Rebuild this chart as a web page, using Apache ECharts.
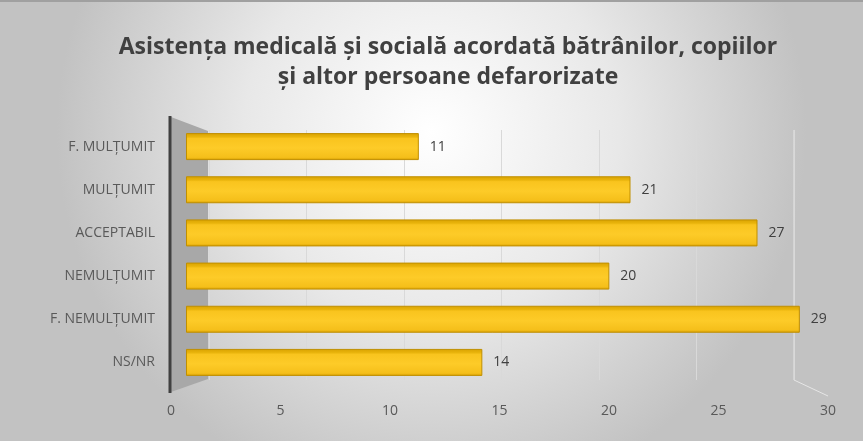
<!DOCTYPE html>
<html>
<head>
<meta charset="utf-8">
<script src="https://cdn.jsdelivr.net/npm/echarts@6/dist/echarts.min.js"></script>
<style>
html, body { margin: 0; padding: 0; }
#chart { width: 863px; height: 441px; }
</style>
</head>
<body>
<div id="chart"></div>
<script>
// date (de sus in jos)
const categories = ['F. MULȚUMIT', 'MULȚUMIT', 'ACCEPTABIL', 'NEMULȚUMIT', 'F. NEMULȚUMIT', 'NS/NR']
const values = [11, 21, 27, 20, 29, 14]
const xTicks = [0, 5, 10, 15, 20, 25, 30]

const chart = echarts.init(document.getElementById('chart'))

const font = '"Open Sans", "Noto Sans", sans-serif'

const option = {
  backgroundColor: {
    type: 'radial',
    x: 0.5, y: 0.3, r: 0.85,
    colorStops: [
      { offset: 0, color: '#ffffff' },
      { offset: 0.5, color: '#e8e8e8' },
      { offset: 1, color: '#c2c2c2' }
    ]
  },
  title: {
    text: 'Asistența medicală și socială acordată bătrânilor, copiilor\nși altor persoane defarorizate',
    left: 443,
    textAlign: 'center',
    top: 27,
    textStyle: {
      fontFamily: font,
      fontSize: 23,
      fontWeight: 'bold',
      color: '#404040',
      lineHeight: 30
    }
  },
  graphic: [
    {
      type: 'line',
      shape: { x1: 0, y1: 1, x2: 863, y2: 1 },
      style: { stroke: '#a0a0a0', lineWidth: 2 }
    },
    {
      type: 'polygon',
      shape: { points: [[171, 117], [208, 131], [208, 379], [171, 392]] },
      style: { fill: '#a8a8a8' }
    },
    {
      type: 'line',
      shape: { x1: 170, y1: 116, x2: 170, y2: 393 },
      style: { stroke: '#404040', lineWidth: 3 }
    },
    {
      type: 'polyline',
      shape: { points: [[794, 130], [794, 380], [828, 396]] },
      style: { stroke: '#e6e6e6', lineWidth: 1, fill: null }
    }
  ],
  grid: [
    // grila din spate (linii verticale)
    { left: 209, top: 130, width: 585, height: 250 },
    // axa cu etichete (fata)
    { left: 171, top: 125, width: 657, height: 259 },
    // barele
    { left: 186, top: 125, width: 635, height: 259 }
  ],
  xAxis: [
    {
      gridIndex: 0, type: 'value', min: 0, max: 30, interval: 5,
      axisLine: { show: false }, axisTick: { show: false }, axisLabel: { show: false },
      splitLine: { lineStyle: { color: '#d9d9d9', width: 1 } }
    },
    {
      gridIndex: 1, type: 'value', min: 0, max: 30, interval: 5,
      axisLine: { show: false }, axisTick: { show: false },
      splitLine: { show: false },
      axisLabel: {
        margin: 20,
        fontFamily: font,
        fontSize: 14,
        color: '#595959',
        formatter: v => xTicks.includes(v) ? String(v) : ''
      }
    },
    {
      gridIndex: 2, type: 'value', min: 0, max: 30,
      show: false
    }
  ],
  yAxis: [
    {
      gridIndex: 0, type: 'category', data: categories, inverse: true, show: false
    },
    {
      gridIndex: 1, type: 'category', data: categories, inverse: true,
      axisLine: { show: false }, axisTick: { show: false },
      axisLabel: {
        margin: 16,
        fontFamily: font,
        fontSize: 14,
        color: '#595959'
      }
    },
    {
      gridIndex: 2, type: 'category', data: categories, inverse: true, show: false
    }
  ],
  series: [
    {
      type: 'bar',
      xAxisIndex: 2,
      yAxisIndex: 2,
      data: values,
      barWidth: 27,
      itemStyle: {
        color: {
          type: 'linear', x: 0, y: 0, x2: 0, y2: 1,
          colorStops: [
            { offset: 0, color: '#d9a200' },
            { offset: 0.14, color: '#e9b40c' },
            { offset: 0.2, color: '#f9c41e' },
            { offset: 0.55, color: '#fdcb28' },
            { offset: 0.9, color: '#f5bf1a' },
            { offset: 1, color: '#d49d00' }
          ]
        },
        borderColor: '#c08f00',
        borderWidth: 1
      },
      label: {
        show: true,
        position: 'right',
        distance: 11,
        fontFamily: font,
        fontSize: 14,
        color: '#404040'
      }
    }
  ]
}

chart.setOption(option)
</script>
</body>
</html>
